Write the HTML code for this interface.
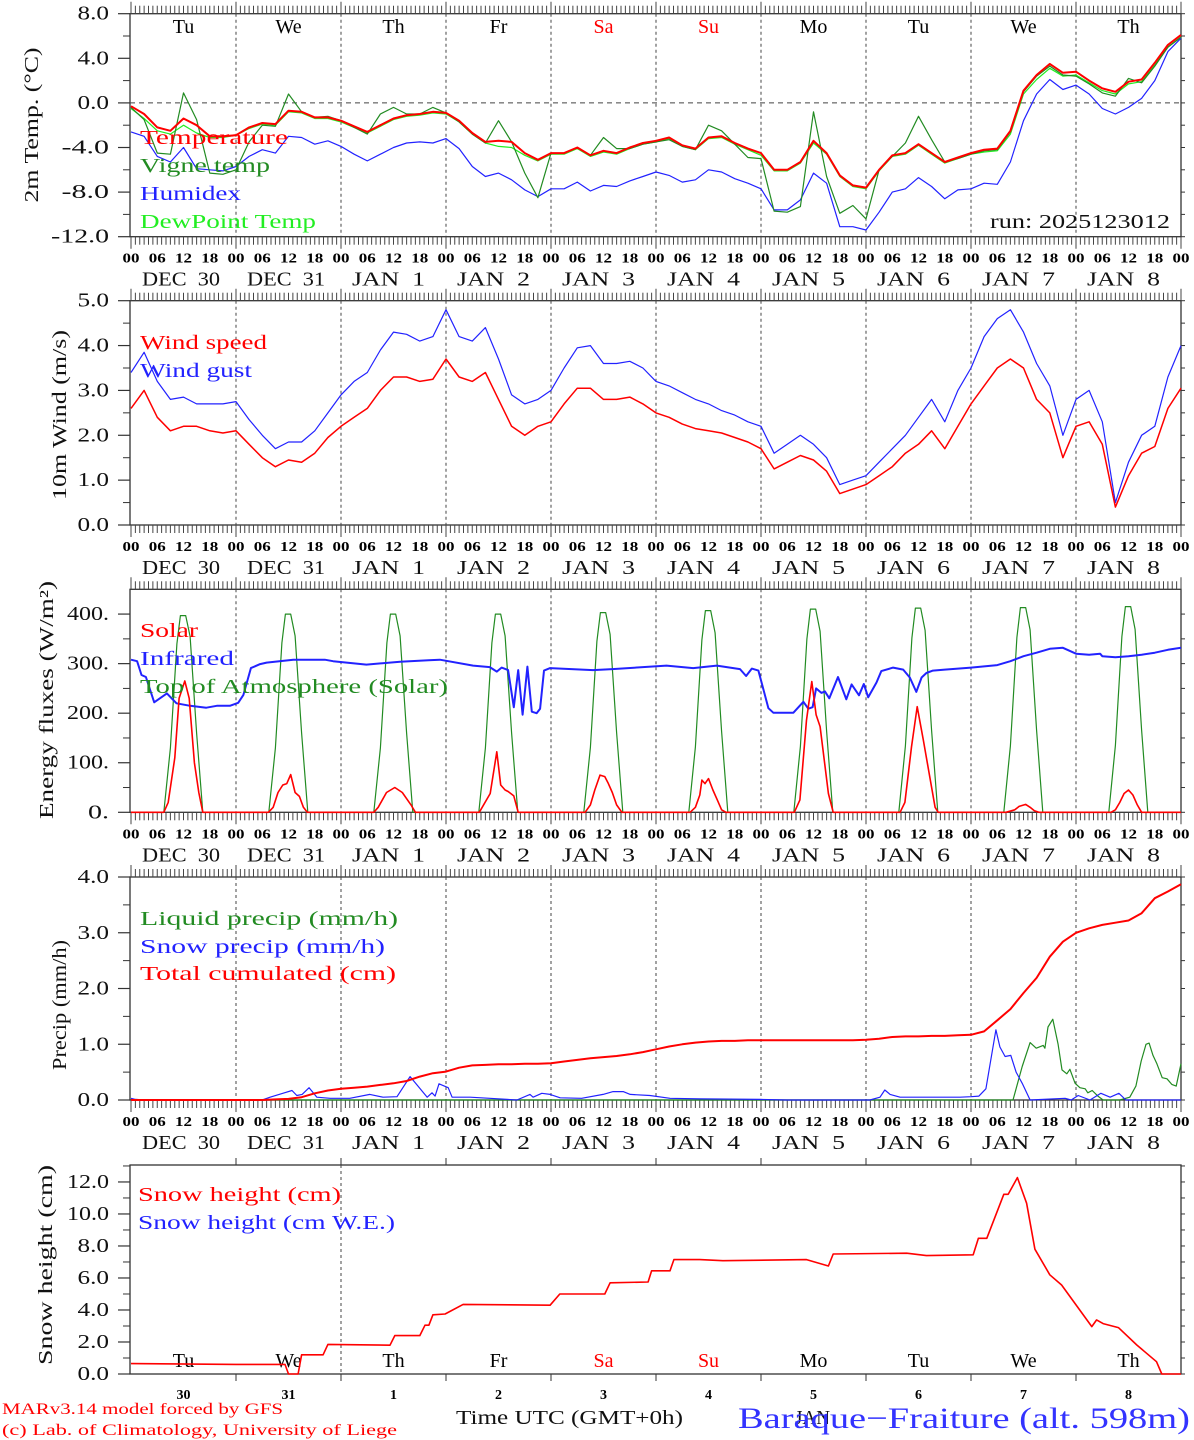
<!DOCTYPE html>
<html><head><meta charset="utf-8">
<style>
html,body{margin:0;padding:0;background:#fff;}
svg{display:block;font-family:"Liberation Serif",serif;}
</style></head>
<body>
<svg id="chart" width="1194" height="1440" viewBox="0 0 1194 1440" xmlns="http://www.w3.org/2000/svg"></svg>
<script>
// ---------- DATA ----------
const dayNames = ["Tu","We","Th","Fr","Sa","Su","Mo","Tu","We","Th"];
const dayColors = ["#000","#000","#000","#000","#f00","#f00","#000","#000","#000","#000"];
const dateMonths = ["DEC","DEC","JAN","JAN","JAN","JAN","JAN","JAN","JAN","JAN"];
const dateDays = ["30","31","1","2","3","4","5","6","7","8"];
const hourTicks = ["00","06","12","18"];
const hours3 = [0,3,6,9,12,15,18,21,24,27,30,33,36,39,42,45,48,51,54,57,60,63,66,69,72,75,78,81,84,87,90,93,96,99,102,105,108,111,114,117,120,123,126,129,132,135,138,141,144,147,150,153,156,159,162,165,168,171,174,177,180,183,186,189,192,195,198,201,204,207,210,213,216,219,222,225,228,231,234,237,240];

const tempVals = [-0.3,-1.0,-2.2,-2.5,-1.4,-2.0,-3.0,-3.0, -2.9,-2.2,-1.8,-1.9,-0.7,-0.8,-1.3,-1.3, -1.6,-2.1,-2.6,-2.0,-1.4,-1.1,-1.0,-0.8, -0.9,-1.6,-2.7,-3.5,-3.4,-3.5,-4.5,-5.1, -4.5,-4.5,-4.0,-4.7,-4.3,-4.5,-4.0,-3.6, -3.4,-3.1,-3.8,-4.1,-3.1,-3.0,-3.6,-4.1, -4.5,-6.0,-6.0,-5.3,-3.4,-4.5,-6.5,-7.4, -7.6,-6.0,-4.7,-4.5,-3.7,-4.5,-5.3,-4.9, -4.5,-4.2,-4.1,-2.5,1.1,2.5,3.5,2.7, 2.8,2.0,1.3,1.0,1.9,2.1,3.6,5.2,6.1];
const vigneVals = [-0.4,-1.5,-4.5,-4.6,0.9,-1.5,-6.3,-6.4, -6.0,-3.5,-2.0,-2.1,0.8,-0.8,-1.3,-1.2, -1.6,-2.2,-2.8,-1.0,-0.4,-1.0,-1.0,-0.4, -0.9,-1.7,-2.8,-3.6,-1.6,-3.5,-6.3,-8.5, -4.5,-4.5,-4.0,-4.7,-3.1,-4.1,-4.1,-3.7, -3.5,-3.3,-3.9,-4.2,-2.0,-2.5,-3.7,-4.9, -5.0,-9.7,-9.8,-9.3,-0.8,-6.6,-9.9,-9.2, -10.4,-6.0,-4.8,-3.6,-1.2,-3.3,-5.3,-5.0, -4.6,-4.3,-4.2,-2.6,1.0,2.4,3.3,2.5, 2.4,1.7,0.9,0.6,2.2,1.8,3.3,5.0,5.9];
const humidexVals = [-2.6,-3.0,-4.8,-5.3,-4.0,-5.9,-6.0,-6.1, -5.7,-4.8,-4.2,-4.5,-3.0,-3.1,-3.7,-3.4, -3.9,-4.6,-5.2,-4.6,-4.0,-3.6,-3.5,-3.6, -3.2,-4.1,-5.7,-6.6,-6.3,-6.9,-7.8,-8.4, -7.7,-7.7,-7.1,-7.9,-7.4,-7.5,-7.0,-6.6, -6.2,-6.5,-7.1,-6.9,-6.0,-6.2,-6.8,-7.2, -7.7,-9.6,-9.6,-8.7,-6.3,-7.2,-11.1,-11.1, -11.4,-9.8,-8.0,-7.7,-6.7,-7.5,-8.6,-7.8, -7.7,-7.2,-7.3,-5.3,-1.6,0.8,2.1,1.2, 1.6,0.8,-0.5,-1.0,-0.4,0.4,2.0,4.6,5.8];
const dewVals = [-0.5,-1.4,-2.5,-2.8,-2.0,-2.7,-3.1,-3.1, -2.9,-2.3,-1.9,-2.0,-0.8,-0.9,-1.4,-1.4, -1.7,-2.2,-2.7,-2.1,-1.5,-1.2,-1.1,-0.9, -1.0,-1.7,-2.8,-3.6,-3.9,-4.0,-4.7,-5.2, -4.6,-4.6,-4.1,-4.8,-4.4,-4.6,-4.1,-3.7, -3.5,-3.2,-3.9,-4.2,-3.2,-3.1,-3.7,-4.2, -4.7,-6.1,-6.1,-5.4,-3.6,-4.6,-6.6,-7.5, -7.7,-6.1,-4.8,-4.6,-3.8,-4.6,-5.4,-5.0, -4.6,-4.4,-4.3,-2.8,0.8,2.1,3.1,2.4, 2.5,1.8,1.1,0.8,1.7,1.9,3.4,5.0,5.9];

const windSpeed = [2.6,3.0,2.4,2.1,2.2,2.2,2.1,2.05, 2.1,1.8,1.5,1.3,1.45,1.4,1.6,1.95, 2.2,2.4,2.6,3.0,3.3,3.3,3.2,3.25, 3.7,3.3,3.2,3.4,2.8,2.2,2.0,2.2, 2.3,2.7,3.05,3.05,2.8,2.8,2.85,2.7, 2.5,2.4,2.25,2.15,2.1,2.05,1.95,1.85, 1.7,1.25,1.4,1.55,1.45,1.2,0.7,0.8, 0.9,1.1,1.3,1.6,1.8,2.1,1.7,2.2, 2.7,3.1,3.5,3.7,3.5,2.8,2.5,1.5, 2.2,2.3,1.8,0.4,1.1,1.6,1.75,2.6,3.05];
const windGust = [3.4,3.85,3.2,2.8,2.85,2.7,2.7,2.7, 2.75,2.35,2.0,1.7,1.85,1.85,2.1,2.5, 2.9,3.2,3.4,3.9,4.3,4.25,4.1,4.2, 4.8,4.2,4.1,4.4,3.7,2.9,2.7,2.8, 3.0,3.5,3.95,4.0,3.6,3.6,3.65,3.5, 3.2,3.1,2.95,2.8,2.7,2.55,2.45,2.3, 2.2,1.6,1.8,2.0,1.8,1.5,0.9,1.0, 1.1,1.4,1.7,2.0,2.4,2.8,2.3,3.0, 3.5,4.2,4.6,4.8,4.3,3.6,3.1,2.0, 2.8,3.0,2.3,0.5,1.4,2.0,2.2,3.3,4.0];

const toaHours = [7.5,9,10.5,11.3,12.5,13.5,15,16.4, 31.5,33,34.5,35.3,36.5,37.5,39,40.4, 55.5,57,58.5,59.3,60.5,61.5,63,64.4, 79.5,81,82.5,83.3,84.5,85.5,87,88.4, 103.5,105,106.5,107.3,108.5,109.5,111,112.4, 127.5,129,130.5,131.3,132.5,133.5,135,136.4, 151.5,153,154.5,155.3,156.5,157.5,159,160.4, 175.5,177,178.5,179.3,180.5,181.5,183,184.4, 199.5,201,202.5,203.3,204.5,205.5,207,208.4, 223.5,225,226.5,227.3,228.5,229.5,231,232.4];
const toaVals = [0,130,340,397,397,355,160,0, 0,130,342,400,400,356,160,0, 0,130,342,400,400,356,160,0, 0,130,342,400,400,356,160,0, 0,131,345,403,403,359,161,0, 0,132,348,407,407,362,163,0, 0,133,350,410,410,365,164,0, 0,134,352,412,412,367,165,0, 0,134,353,413,413,368,165,0, 0,135,355,415,415,369,166,0];
const solarHours = [0,7.5,8.5,10,11,12.3,13.3,14.5,15.5,16.4, 31.4,32.5,33.6,34.7,35.6,36.5,37.5,38.5,39.4,40.3, 55.5,56.5,58.4,60.3,62,64,65, 79.6,82.1,83.6,84.5,85.5,86.2,87.5,88.5, 103.8,105,106,107.2,108.3,109,110,111,112.2, 127.8,129,130,130.5,131.2,132,133,134,135,136, 151.6,152.9,154.4,155.6,156.6,157.5,159.4,160.5, 175.8,176.9,178.4,179.7,181.1,182.6,183.8,184.5, 200,202,203,204.5,205.5,206.5,207.5, 224,225,226,227,228,229,230,231,240];
const solarVals = [0,0,20,110,230,265,230,100,40,0, 0,10,40,55,58,76,40,32,10,0, 0,10,40,50,40,15,0, 0,38,122,55,45,42,33,0, 0,15,45,75,72,60,40,15,0, 0,10,35,65,58,68,45,25,5,0, 0,25,186,264,197,173,38,0, 0,20,132,213,146,70,10,0, 0,5,12,16,10,3,0, 0,5,20,38,45,35,15,0,0];
const irHours = [0,1.4,2.4,3.4,5.3,8.2,10.4,13.5,17.2,19.6,22.6,24.5,25.7,27.4,29.5,31,37.1,44.3,46.2,53.8,61.5,68,70.6,78.2,82,83.6,84.7,86.2,87.5,88.5,89.5,90.6,91.6,92.7,93.5,94.4,95.8,105.6,110,122.4,128.5,133.9,139.2,140.6,141.9,143.4,145.7,146.8,151.4,153.7,154.8,155.8,156.6,157.8,158.6,159.6,161.6,163.5,164.7,166.4,167.5,168.5,170.4,171.5,174.2,176.5,178,179.5,180.7,181.8,183.3,186,192,198,201,204,207,210,213,216,219,221.5,222,225,228,231,234,237,240];
const irVals = [308,305,277,273,222,240,220,215,211,215,215,221,237,291,299,302,308,308,305,298,304,307,308,296,293,284,292,287,212,287,197,294,203,200,209,286,291,287,289,296,291,296,289,275,290,286,210,201,201,223,209,212,250,241,244,230,273,228,258,236,259,232,262,285,292,288,272,243,272,281,286,288,292,297,305,315,322,330,332,320,318,320,315,313,315,318,322,328,332];

const precipTotal = [0,0,0,0,0,0,0,0, 0,0,0,0.01,0.02,0.05,0.12,0.17, 0.2,0.22,0.24,0.27,0.3,0.34,0.42,0.48, 0.51,0.58,0.62,0.63,0.64,0.64,0.65,0.65, 0.66,0.69,0.72,0.75,0.77,0.79,0.82,0.86, 0.91,0.96,1.0,1.03,1.05,1.06,1.06,1.07, 1.07,1.07,1.07,1.07,1.07,1.07,1.07,1.07, 1.08,1.1,1.13,1.14,1.14,1.15,1.15,1.16, 1.17,1.23,1.43,1.63,1.92,2.19,2.57,2.84, 3.0,3.08,3.14,3.18,3.22,3.35,3.62,3.74,3.87];
const snowPrHours = [0,1,3,30,31.8,34.7,36.8,37.9,39.1,40.7,42.5,45.5,50,54.6,57.6,60.8,63.8,65.6,67.7,68.8,69.5,70.4,72.5,73.4,77.5,82,88.2,91.2,91.9,93.9,95.8,98.1,103,107.9,110.2,112.5,114.1,118.6,123.2,130,143.8,150,168.9,171.2,172.3,173.5,175.8,189.5,192,193.8,195.4,197.7,198.6,199.8,201.1,202.3,203.7,205.5,213.5,214.9,216.5,219.2,221.7,223.8,225.8,227.4,230.6,240];
const snowPrVals = [0.03,0.01,0,0,0.05,0.12,0.17,0.08,0.1,0.22,0.05,0.03,0.03,0.1,0.05,0.06,0.42,0.25,0.05,0.13,0.07,0.29,0.22,0.05,0.05,0.03,0,0.1,0.05,0.12,0.1,0.04,0.03,0.1,0.15,0.15,0.1,0.08,0.03,0.02,0.01,0,0,0.05,0.18,0.1,0.05,0.05,0.06,0.07,0.2,1.26,0.95,0.78,0.8,0.5,0.3,0,0.03,0,0.08,0,0.12,0.05,0.12,0,0,0];
const liquidHours = [0,201.6,203.7,205.5,206.9,208.5,208.9,209.6,210.7,211.9,212.8,213.9,214.6,215.8,216.9,218.1,218.7,219.7,221,222.2,226,228.3,229.7,230.9,232,232.7,233.6,234.5,235.7,236.8,237.9,238.9,240];
const liquidVals = [0,0,0.6,1.03,0.93,0.98,0.93,1.31,1.45,1.0,0.54,0.47,0.55,0.3,0.22,0.2,0.13,0.17,0.07,0,0,0.05,0.25,0.7,1.0,1.02,0.8,0.65,0.4,0.38,0.28,0.25,0.65];

const snowHours = [0,24,35.2,36,38.2,39,43.9,45,59.2,60.3,66,67.2,68.1,69,71.8,75.9,95.8,98,108.3,109.5,118.2,119,123.2,124.1,130,135.3,154.4,159.4,160.5,177.3,181.8,192.5,193.7,195.6,199.5,200.5,202.6,204.7,206.6,210,212.7,219.6,220.7,222.2,225.7,229.9,234.4,235.6,240];
const snowVals = [0.65,0.6,0.6,0,0,1.2,1.2,1.85,1.8,2.4,2.4,3.05,3.05,3.7,3.75,4.35,4.3,5.0,5.0,5.7,5.75,6.45,6.45,7.15,7.15,7.08,7.15,6.75,7.5,7.55,7.4,7.45,8.48,8.48,11.23,11.23,12.27,10.67,7.8,6.2,5.56,2.96,3.38,3.15,2.9,1.81,0.77,0,0];

// ---------- HELPERS ----------
const NS = "http://www.w3.org/2000/svg";
const svg = document.getElementById("chart");
const X0 = 131, PXH = 4.375, XR = 1181, XL = 130;
function xh(h){ return X0 + h*PXH; }
function mk(tag, attrs, parent){
  const e = document.createElementNS(NS, tag);
  for (const k in attrs) e.setAttribute(k, attrs[k]);
  (parent||svg).appendChild(e);
  return e;
}
function txt(s, x, y, size, color, anchor, parent, tl){
  const t = mk("text", {x:x, y:y, "font-size":size, fill:color||"#000", "text-anchor":anchor||"start"}, parent);
  if (tl) { t.setAttribute("textLength", tl); t.setAttribute("lengthAdjust","spacingAndGlyphs"); }
  t.textContent = s;
  return t;
}
function yScale(top, bot, vmax, vmin){ return v => bot - (v - vmin) * (bot - top) / (vmax - vmin); }
function linePath(hs, vs, ys){
  let d = "";
  for (let i=0;i<hs.length;i++) d += (i?"L":"M") + xh(hs[i]).toFixed(1) + "," + ys(vs[i]).toFixed(1);
  return d;
}

function panel(name, top, bot, vmin, vmax, majors, minors, fmt, opts){
  const g = mk("g", {});
  
  
  const ys = yScale(top, bot, vmax, vmin);
  const fr = mk("rect", {x:XL, y:top, width:XR-XL, height:bot-top, fill:"none", stroke:"#333", "stroke-width":1.3}, g);
  
  
  majors.forEach(v => {
    mk("line", {x1:118, x2:XL, y1:ys(v), y2:ys(v), stroke:"#333", "stroke-width":1.2}, g);
    mk("line", {x1:XR, x2:XR+4, y1:ys(v), y2:ys(v), stroke:"#333", "stroke-width":1}, g);
    const s = fmt(v);
    const w = s.replace("-", "").length * 10.5 + (s.indexOf("-") >= 0 ? 16 : 0);
    const t = txt(s, 109, ys(v)+6, 20, "#111", "end", g, w);
    
    
  });
  minors.forEach(v => {
    mk("line", {x1:123, x2:XL, y1:ys(v), y2:ys(v), stroke:"#333", "stroke-width":1}, g);
    mk("line", {x1:XR, x2:XR+4, y1:ys(v), y2:ys(v), stroke:"#333", "stroke-width":1}, g);
  });
  if (opts.hourly) {
    for (let h=0; h<=240; h++){
      const x = xh(h), major = h%24===0;
      mk("line", {x1:x, x2:x, y1:top-(major?12:8), y2:top, stroke:"#444", "stroke-width":1}, g);
      mk("line", {x1:x, x2:x, y1:bot, y2:bot+(major?12:8), stroke:"#444", "stroke-width":1}, g);
    }
    for (let d=0; d<10; d++){
      for (let k=0;k<4;k++){
        const t = txt(hourTicks[k], xh(d*24+k*6), bot+26, 14, "#000", "middle", g, 17);
        t.setAttribute('font-weight','bold');
        
        
      }
      const isDec = dateMonths[d] === "DEC";
      const dl = txt(dateMonths[d] + "\u00a0\u00a0" + dateDays[d], isDec ? 142 + d*105 : xh(d*24)+11, bot+49, 20, "#111", "start", g, isDec ? 78 : 73);
      
      
    }
    const tl = txt("00", xh(240), bot+26, 14, "#000", "middle", g, 17);
    tl.setAttribute('font-weight','bold');
    
    
  }
  for (let d=1; d<10; d++){
    if (opts.dashDays && opts.dashDays.indexOf(d) < 0) continue;
    mk("line", {x1:xh(d*24), x2:xh(d*24), y1:top, y2:bot, stroke:"#444", "stroke-width":1, "stroke-dasharray":"3,3"}, g);
  }
  const yt = txt(opts.title, 0, 0, 20, "#111", "middle", g);
  yt.setAttribute("transform", "translate(" + opts.titleX + "," + opts.titleY + ") rotate(-90)");
  if (opts.titleLen) { yt.setAttribute("textLength", opts.titleLen); yt.setAttribute("lengthAdjust","spacingAndGlyphs"); }
  
  
  return {g, ys};
}
function series(p, name, hs, vs, color, w){
  const path = mk("path", {d:linePath(hs, vs, p.ys), fill:"none", stroke:color, "stroke-width":w, "stroke-linejoin":"round"}, p.g);
  
  
  return path;
}
function legend(p, s, x, y, color, len){
  const t = txt(s, x, y, 20, color, "start", p.g, len);
  
  
}
const RED="#ff0000", GREEN="#228b22", LGREEN="#22ee22", BLUE="#2222ff";

// ---------- PANEL 1 ----------
const p1 = panel("temperature-panel", 13.7, 236.7, -12, 8, [8,4,0,-4,-8,-12], [6,2,-2,-6,-10], v => v.toFixed(1), {hourly:true, title:"2m Temp. (\u00b0C)", titleX:38, titleY:125, titleLen:155});
const zl = mk("line", {x1:XL, x2:XR, y1:p1.ys(0), y2:p1.ys(0), stroke:"#444", "stroke-width":1, "stroke-dasharray":"5,4"}, p1.g);


for (let d=0; d<10; d++){
  const t = txt(dayNames[d], xh(d*24+12), 33, 20, dayColors[d], "middle", p1.g);
  
  
}
series(p1, "humidex-line", hours3, humidexVals, BLUE, 1.2);
series(p1, "dewpoint-line", hours3, dewVals, LGREEN, 1.2);
series(p1, "vigne-temp-line", hours3, vigneVals, GREEN, 1.2);
series(p1, "temperature-line", hours3, tempVals, RED, 2);
legend(p1, "Temperature", 140, 144, RED, 148);
legend(p1, "Vigne temp", 140, 172, GREEN, 130);
legend(p1, "Humidex", 140, 200, BLUE, 101);
legend(p1, "DewPoint Temp", 140, 228, LGREEN, 176);
const run = txt("run: 2025123012", 990, 228, 20, "#111", "start", p1.g, 180);



// ---------- PANEL 2 ----------
const p2 = panel("wind-panel", 300.7, 525, 0, 5, [0,1,2,3,4,5], [0.5,1.5,2.5,3.5,4.5], v => v.toFixed(1), {hourly:true, title:"10m Wind (m/s)", titleX:66, titleY:415, titleLen:170});
series(p2, "wind-gust-line", hours3, windGust, BLUE, 1.2);
series(p2, "wind-speed-line", hours3, windSpeed, RED, 1.5);
legend(p2, "Wind speed", 140, 349, RED, 127);
legend(p2, "Wind gust", 140, 377, BLUE, 112);

// ---------- PANEL 3 ----------
const p3 = panel("energy-panel", 589.3, 812.3, 0, 450, [0,100,200,300,400], [50,150,250,350], v => v.toFixed(0)+".", {hourly:true, title:"Energy fluxes (W/m\u00b2)", titleX:53, titleY:700, titleLen:238});
series(p3, "toa-solar-line", toaHours, toaVals, GREEN, 1.2);
series(p3, "infrared-line", irHours, irVals, BLUE, 2);
series(p3, "solar-line", solarHours, solarVals, RED, 1.6);
legend(p3, "Solar", 140, 637, RED, 58);
legend(p3, "Infrared", 140, 665, BLUE, 94);
legend(p3, "Top of Atmosphere (Solar)", 140, 693, GREEN, 308);

// ---------- PANEL 4 ----------
const p4 = panel("precip-panel", 877, 1100, 0, 4, [0,1,2,3,4], [0.5,1.5,2.5,3.5], v => v.toFixed(1), {hourly:true, title:"Precip (mm/h)", titleX:66, titleY:1005, titleLen:130});
series(p4, "liquid-precip-line", liquidHours, liquidVals, GREEN, 1.2);
series(p4, "snow-precip-line", snowPrHours, snowPrVals, BLUE, 1.2);
series(p4, "total-cumulated-line", hours3, precipTotal, RED, 2);
legend(p4, "Liquid precip (mm/h)", 140, 925, GREEN, 258);
legend(p4, "Snow precip (mm/h)", 140, 953, BLUE, 245);
legend(p4, "Total cumulated (cm)", 140, 980, RED, 256);

// ---------- PANEL 5 ----------
const p5 = panel("snow-panel", 1165, 1374, 0, 13.06, [0,2,4,6,8,10,12], [1,3,5,7,9,11,13], v => v.toFixed(1), {hourly:false, dashDays:[2], title:"Snow height (cm)", titleX:52, titleY:1265, titleLen:200});
for (let d=1; d<10; d++){
  mk("line", {x1:xh(d*24), x2:xh(d*24), y1:1158, y2:1165, stroke:"#333", "stroke-width":1}, p5.g);
  mk("line", {x1:xh(d*24), x2:xh(d*24), y1:1374, y2:1381, stroke:"#333", "stroke-width":1}, p5.g);
}
for (let d=0; d<10; d++){
  const t = txt(dayNames[d], xh(d*24+12), 1367, 20, dayColors[d], "middle", p5.g);
  
  
  const n = txt(dateDays[d], xh(d*24+12), 1399, 14, "#000", "middle", p5.g);
  n.setAttribute('font-weight','bold');
  
  
}
series(p5, "snow-height-line", snowHours, snowVals, RED, 1.6);
legend(p5, "Snow height (cm)", 138, 1201, RED, 203);
legend(p5, "Snow height (cm W.E.)", 138, 1229, BLUE, 257);

// ---------- footer ----------
const f1 = txt("MARv3.14 model forced by GFS", 2, 1414, 16, RED, "start", svg, 281);


const f2 = txt("(c) Lab. of Climatology, University of Liege", 2, 1435, 16, RED, "start", svg, 395);


const f3 = txt("Time UTC (GMT+0h)", 456, 1424, 20, "#111", "start", svg, 227);


const f4 = txt("JAN", 795, 1424, 20, "#111", "start", svg, 35);


const f5 = txt("Baraque\u2212Fraiture (alt. 598m)", 738, 1428, 30, "#3333ff", "start", svg, 452);


</script>
</body></html>
